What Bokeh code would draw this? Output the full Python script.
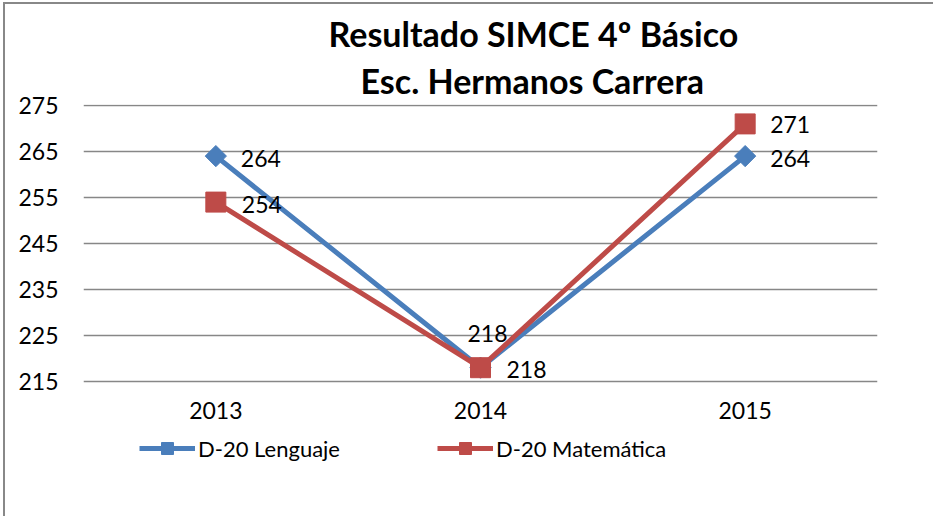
from bokeh.plotting import figure
from bokeh.models import (FactorRange, Range1d, Title, Legend, LegendItem,
                          ColumnDataSource, FixedTicker)
from bokeh.core.properties import value
from bokeh.embed import file_html
from bokeh.resources import INLINE

years = ["2013", "2014", "2015"]
lenguaje = [264, 218, 264]
matematica = [254, 218, 271]
y_ticks = [215, 225, 235, 245, 255, 265, 275]
title_line1 = "Resultado SIMCE 4º Básico"
title_line2 = "Esc. Hermanos Carrera"
name_leng = "D-20 Lenguaje"
name_mat = "D-20 Matemática"

# label offsets (screen px)
leng_dx = [25, 7, 25]
leng_dy = [2, -34, 2]
leng_align = ["left", "center", "left"]
mat_dx = [26, 26, 25]
mat_dy = [2, 2, 1]

BLUE = "#4A7EBB"
RED = "#BE4B48"
FONT = "Lato"

W, H = 930, 514
FL, FT = 78, 100
FW, FH = 794, 396
PXU = 4.6  # pixels per unit on the value axis
Y_TOP = 275 + 1 / PXU

p = figure(width=W, height=H, output_backend="svg", toolbar_location=None,
           x_range=FactorRange(factors=years, range_padding=0),
           y_range=Range1d(Y_TOP - FH / PXU, Y_TOP),
           min_border_left=FL, min_border_right=W - FL - FW,
           min_border_top=FT, min_border_bottom=H - FT - FH)
p.styles = {"margin-left": "3px", "margin-top": "2px",
            "border-left": "2px solid #888888", "border-top": "2px solid #888888"}
p.outline_line_color = None
p.background_fill_color = "white"
p.border_fill_color = "white"

p.xgrid.grid_line_color = None
p.ygrid.grid_line_color = "#878787"
p.ygrid.grid_line_width = 1.5
p.yaxis.ticker = FixedTicker(ticks=y_ticks)
p.xaxis.fixed_location = y_ticks[0]

for ax in (p.xaxis[0], p.yaxis[0]):
    ax.axis_line_color = None
    ax.major_tick_line_color = None
    ax.minor_tick_line_color = None
    ax.major_tick_out = 0
    ax.major_tick_in = 0
    ax.major_label_text_font = FONT
    ax.major_label_text_font_size = "23px"
    ax.major_label_text_color = "black"
p.yaxis.major_label_standoff = 25
p.xaxis.major_label_standoff = 20

src_l = ColumnDataSource(dict(x=years, y=lenguaje, t=[str(v) for v in lenguaje],
                              dx=leng_dx, dy=leng_dy, al=leng_align))
src_m = ColumnDataSource(dict(x=years, y=matematica, t=[str(v) for v in matematica],
                              dx=mat_dx, dy=mat_dy))

lb = p.line("x", "y", source=src_l, line_color=BLUE, line_width=5)
sb = p.scatter("x", "y", source=src_l, marker="square", angle=0.785398,
               size=15, fill_color=BLUE, line_color=BLUE)
lr = p.line("x", "y", source=src_m, line_color=RED, line_width=5)
sr = p.scatter("x", "y", source=src_m, marker="square", size=20,
               fill_color=RED, line_color=RED)

p.text("x", "y", text="t", source=src_l, x_offset="dx", y_offset="dy",
       text_align="al", text_baseline="middle", text_font=value(FONT),
       text_font_size="23px", text_color="black")
p.text("x", "y", text="t", source=src_m, x_offset="dx", y_offset="dy",
       text_align="left", text_baseline="middle", text_font=value(FONT),
       text_font_size="23px", text_color="black")

# titles (first added is closest to the frame)
t2 = Title(text=title_line2, align="left", offset=277, text_font=FONT,
           text_font_size="34px", text_font_style="bold", standoff=7,
           text_color="black")
t1 = Title(text=title_line1, align="left", offset=245, text_font=FONT,
           text_font_size="34px", text_font_style="bold", standoff=2,
           text_color="black")
p.add_layout(t2, "above")
p.add_layout(t1, "above")

for item, loc in ((LegendItem(label=name_leng, renderers=[lb, sb]), (56, 37)),
                  (LegendItem(label=name_mat, renderers=[lr, sr]), (354, 37))):
    lg = Legend(items=[item], location=loc, orientation="horizontal",
                glyph_width=56, glyph_height=30, label_standoff=3,
                padding=0, margin=0, spacing=0,
                background_fill_alpha=0, border_line_alpha=0,
                label_text_font=FONT, label_text_font_size="22px",
                label_text_color="black")
    p.add_layout(lg, "center")

open("out.html", "w").write(file_html(p, INLINE))
